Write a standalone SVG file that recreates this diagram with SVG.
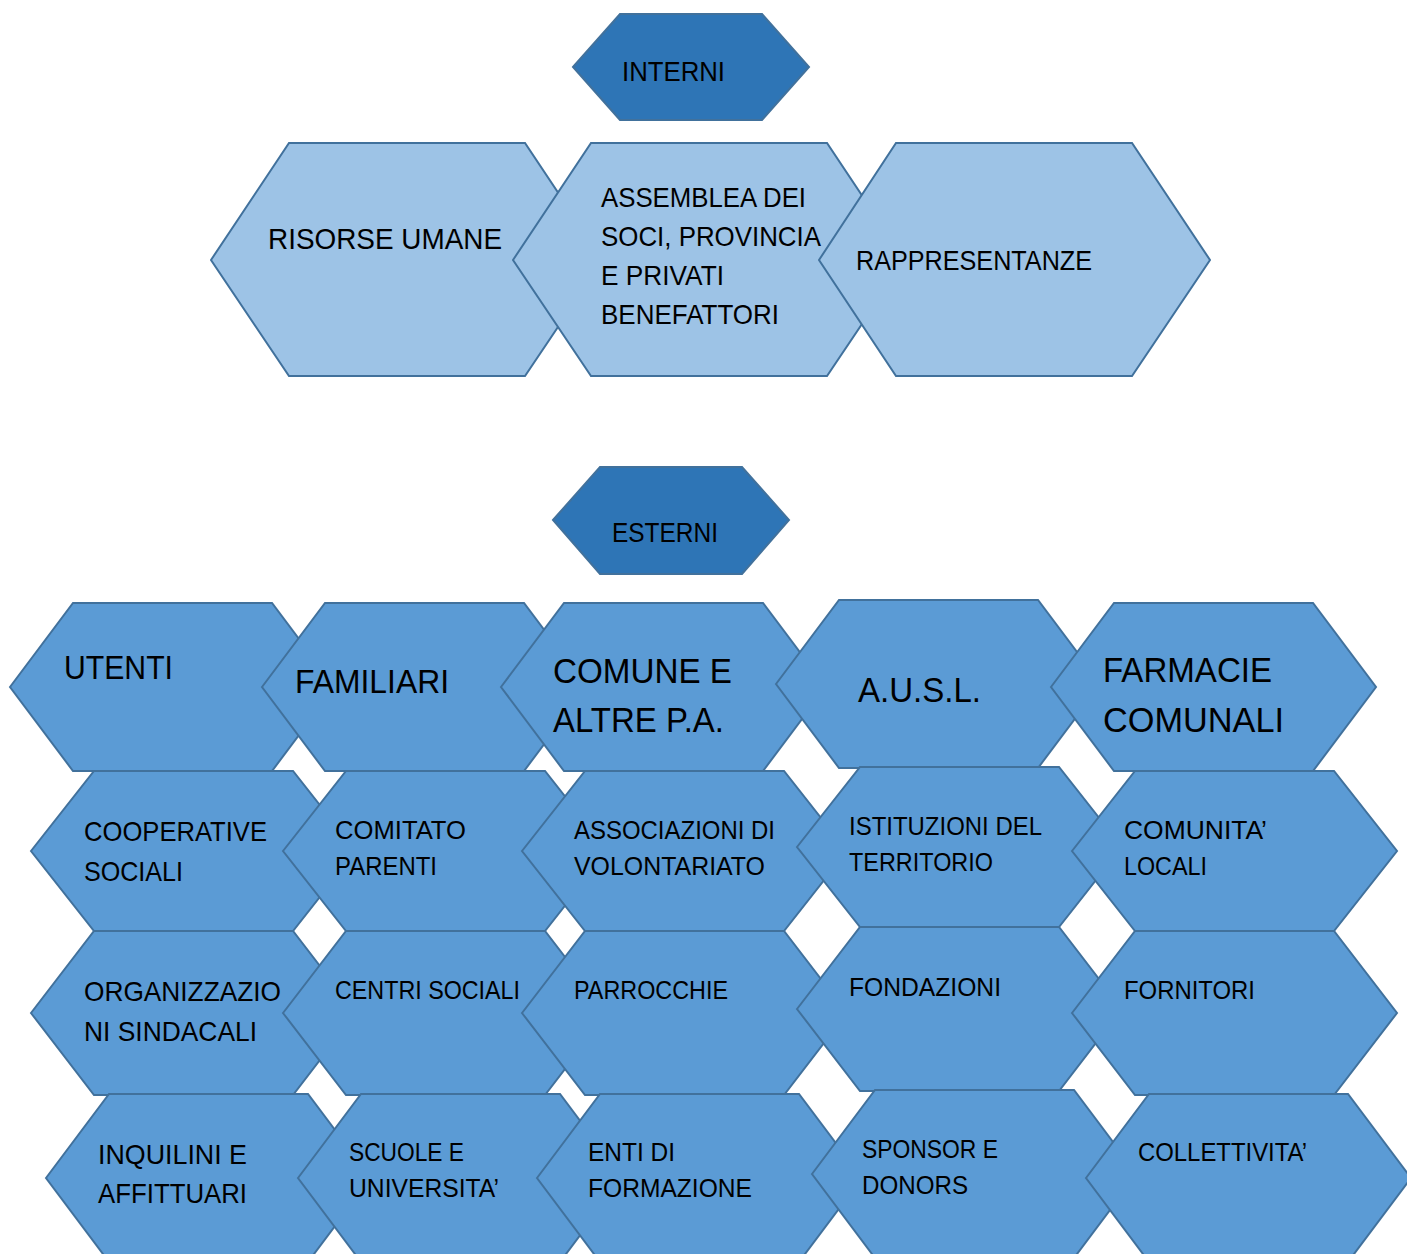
<svg xmlns="http://www.w3.org/2000/svg" width="1407" height="1254" viewBox="0 0 1407 1254">
<defs>
<style>
.bg{fill:#ffffff}
.hx{stroke:#41719C;stroke-width:2;stroke-linejoin:miter}
.dark{fill:#2E75B6}
.light{fill:#9DC3E6}
.mid{fill:#5B9BD5}
text{font-family:"Liberation Sans",Arial,sans-serif;fill:#000000}
</style>
</defs>
<rect class="bg" x="0" y="0" width="1407" height="1254"/>
<g id="connectors"/>
<g id="interni"><polygon class="hx dark" points="573,67 620,14 762,14 809,67 762,120 620,120"/><text x="622" y="81" font-size="27" textLength="103" lengthAdjust="spacingAndGlyphs">INTERNI</text></g>
<g id="risorse-umane"><polygon class="hx light" points="211,260 289,143 525,143 603,260 525,376 289,376"/><text x="268" y="249" font-size="30" textLength="234" lengthAdjust="spacingAndGlyphs">RISORSE UMANE</text></g>
<g id="assemblea"><polygon class="hx light" points="513,260 591,143 827,143 905,260 827,376 591,376"/><text font-size="28.5" x="601" y="207" textLength="205" lengthAdjust="spacingAndGlyphs">ASSEMBLEA DEI</text><text font-size="28.5" x="601" y="246" textLength="220" lengthAdjust="spacingAndGlyphs">SOCI, PROVINCIA</text><text font-size="28.5" x="601" y="285" textLength="123" lengthAdjust="spacingAndGlyphs">E PRIVATI</text><text font-size="28.5" x="601" y="324" textLength="178" lengthAdjust="spacingAndGlyphs">BENEFATTORI</text></g>
<g id="rappresentanze"><polygon class="hx light" points="819,260 896,143 1132,143 1210,260 1132,376 896,376"/><text x="856" y="270" font-size="28" textLength="236" lengthAdjust="spacingAndGlyphs">RAPPRESENTANZE</text></g>
<g id="esterni"><polygon class="hx dark" points="553,520 600,467 742,467 789,520 742,574 600,574"/><text x="612" y="542" font-size="27" textLength="106" lengthAdjust="spacingAndGlyphs">ESTERNI</text></g>
<g id="utenti"><polygon class="hx mid" points="10,687 73,603 272,603 335,687 272,771 73,771"/><text x="64" y="679" font-size="33" textLength="109" lengthAdjust="spacingAndGlyphs">UTENTI</text></g>
<g id="familiari"><polygon class="hx mid" points="262,687 325,603 524,603 587,687 524,771 325,771"/><text x="295" y="693" font-size="33" textLength="154" lengthAdjust="spacingAndGlyphs">FAMILIARI</text></g>
<g id="comune"><polygon class="hx mid" points="501,687 564,603 763,603 826,687 763,771 564,771"/><text x="553" y="683" font-size="35.5" textLength="179" lengthAdjust="spacingAndGlyphs">COMUNE E</text><text x="553" y="732" font-size="35.5" textLength="171" lengthAdjust="spacingAndGlyphs">ALTRE P.A.</text></g>
<g id="ausl"><polygon class="hx mid" points="776,684 839,600 1038,600 1101,684 1038,768 839,768"/><text x="858" y="702" font-size="35.5" textLength="123" lengthAdjust="spacingAndGlyphs">A.U.S.L.</text></g>
<g id="farmacie"><polygon class="hx mid" points="1051,687 1114,603 1313,603 1376,687 1313,771 1114,771"/><text x="1103" y="682" font-size="35.5" textLength="169" lengthAdjust="spacingAndGlyphs">FARMACIE</text><text x="1103" y="732" font-size="35.5" textLength="181" lengthAdjust="spacingAndGlyphs">COMUNALI</text></g>
<g id="cooperative"><polygon class="hx mid" points="31,851 94,771 293,771 356,851 293,931 94,931"/><text x="84" y="841" font-size="28" textLength="183" lengthAdjust="spacingAndGlyphs">COOPERATIVE</text><text x="84" y="881" font-size="28" textLength="99" lengthAdjust="spacingAndGlyphs">SOCIALI</text></g>
<g id="comitato"><polygon class="hx mid" points="283,851 346,771 545,771 608,851 545,931 346,931"/><text x="335" y="839" font-size="26" textLength="131" lengthAdjust="spacingAndGlyphs">COMITATO</text><text x="335" y="875" font-size="26" textLength="102" lengthAdjust="spacingAndGlyphs">PARENTI</text></g>
<g id="associazioni"><polygon class="hx mid" points="522,851 585,771 784,771 847,851 784,931 585,931"/><text x="574" y="839" font-size="26" textLength="201" lengthAdjust="spacingAndGlyphs">ASSOCIAZIONI DI</text><text x="574" y="875" font-size="26" textLength="191" lengthAdjust="spacingAndGlyphs">VOLONTARIATO</text></g>
<g id="istituzioni"><polygon class="hx mid" points="797,847 860,767 1059,767 1122,847 1059,927 860,927"/><text x="849" y="835" font-size="26" textLength="193" lengthAdjust="spacingAndGlyphs">ISTITUZIONI DEL</text><text x="849" y="871" font-size="26" textLength="144" lengthAdjust="spacingAndGlyphs">TERRITORIO</text></g>
<g id="comunita"><polygon class="hx mid" points="1072,851 1135,771 1334,771 1397,851 1334,931 1135,931"/><text x="1124" y="839" font-size="26" textLength="143" lengthAdjust="spacingAndGlyphs">COMUNITA’</text><text x="1124" y="875" font-size="26" textLength="83" lengthAdjust="spacingAndGlyphs">LOCALI</text></g>
<g id="organizzazioni"><polygon class="hx mid" points="31,1013 94,931 293,931 356,1013 293,1095 94,1095"/><text x="84" y="1001" font-size="28" textLength="197" lengthAdjust="spacingAndGlyphs">ORGANIZZAZIO</text><text x="84" y="1041" font-size="28" textLength="173" lengthAdjust="spacingAndGlyphs">NI SINDACALI</text></g>
<g id="centri-sociali"><polygon class="hx mid" points="283,1013 346,931 545,931 608,1013 545,1095 346,1095"/><text x="335" y="999" font-size="26" textLength="185" lengthAdjust="spacingAndGlyphs">CENTRI SOCIALI</text></g>
<g id="parrocchie"><polygon class="hx mid" points="522,1013 585,931 784,931 847,1013 784,1095 585,1095"/><text x="574" y="999" font-size="26" textLength="154" lengthAdjust="spacingAndGlyphs">PARROCCHIE</text></g>
<g id="fondazioni"><polygon class="hx mid" points="797,1009 860,927 1059,927 1122,1009 1059,1091 860,1091"/><text x="849" y="996" font-size="26" textLength="152" lengthAdjust="spacingAndGlyphs">FONDAZIONI</text></g>
<g id="fornitori"><polygon class="hx mid" points="1072,1013 1135,931 1334,931 1397,1013 1334,1095 1135,1095"/><text x="1124" y="999" font-size="26" textLength="131" lengthAdjust="spacingAndGlyphs">FORNITORI</text></g>
<g id="inquilini"><polygon class="hx mid" points="46,1178 109,1094 308,1094 371,1178 308,1262 109,1262"/><text x="98" y="1164" font-size="28" textLength="149" lengthAdjust="spacingAndGlyphs">INQUILINI E</text><text x="98" y="1203" font-size="28" textLength="149" lengthAdjust="spacingAndGlyphs">AFFITTUARI</text></g>
<g id="scuole"><polygon class="hx mid" points="298,1178 361,1094 560,1094 623,1178 560,1262 361,1262"/><text x="349" y="1161" font-size="26" textLength="115" lengthAdjust="spacingAndGlyphs">SCUOLE E</text><text x="349" y="1197" font-size="26" textLength="150" lengthAdjust="spacingAndGlyphs">UNIVERSITA’</text></g>
<g id="enti-formazione"><polygon class="hx mid" points="537,1178 600,1094 799,1094 862,1178 799,1262 600,1262"/><text x="588" y="1161" font-size="26" textLength="87" lengthAdjust="spacingAndGlyphs">ENTI DI</text><text x="588" y="1197" font-size="26" textLength="164" lengthAdjust="spacingAndGlyphs">FORMAZIONE</text></g>
<g id="sponsor"><polygon class="hx mid" points="812,1174 875,1090 1074,1090 1137,1174 1074,1258 875,1258"/><text x="862" y="1158" font-size="26" textLength="136" lengthAdjust="spacingAndGlyphs">SPONSOR E</text><text x="862" y="1194" font-size="26" textLength="106" lengthAdjust="spacingAndGlyphs">DONORS</text></g>
<g id="collettivita"><polygon class="hx mid" points="1086,1178 1149,1094 1348,1094 1411,1178 1348,1262 1149,1262"/><text x="1138" y="1161" font-size="26" textLength="169" lengthAdjust="spacingAndGlyphs">COLLETTIVITA’</text></g>
</svg>
